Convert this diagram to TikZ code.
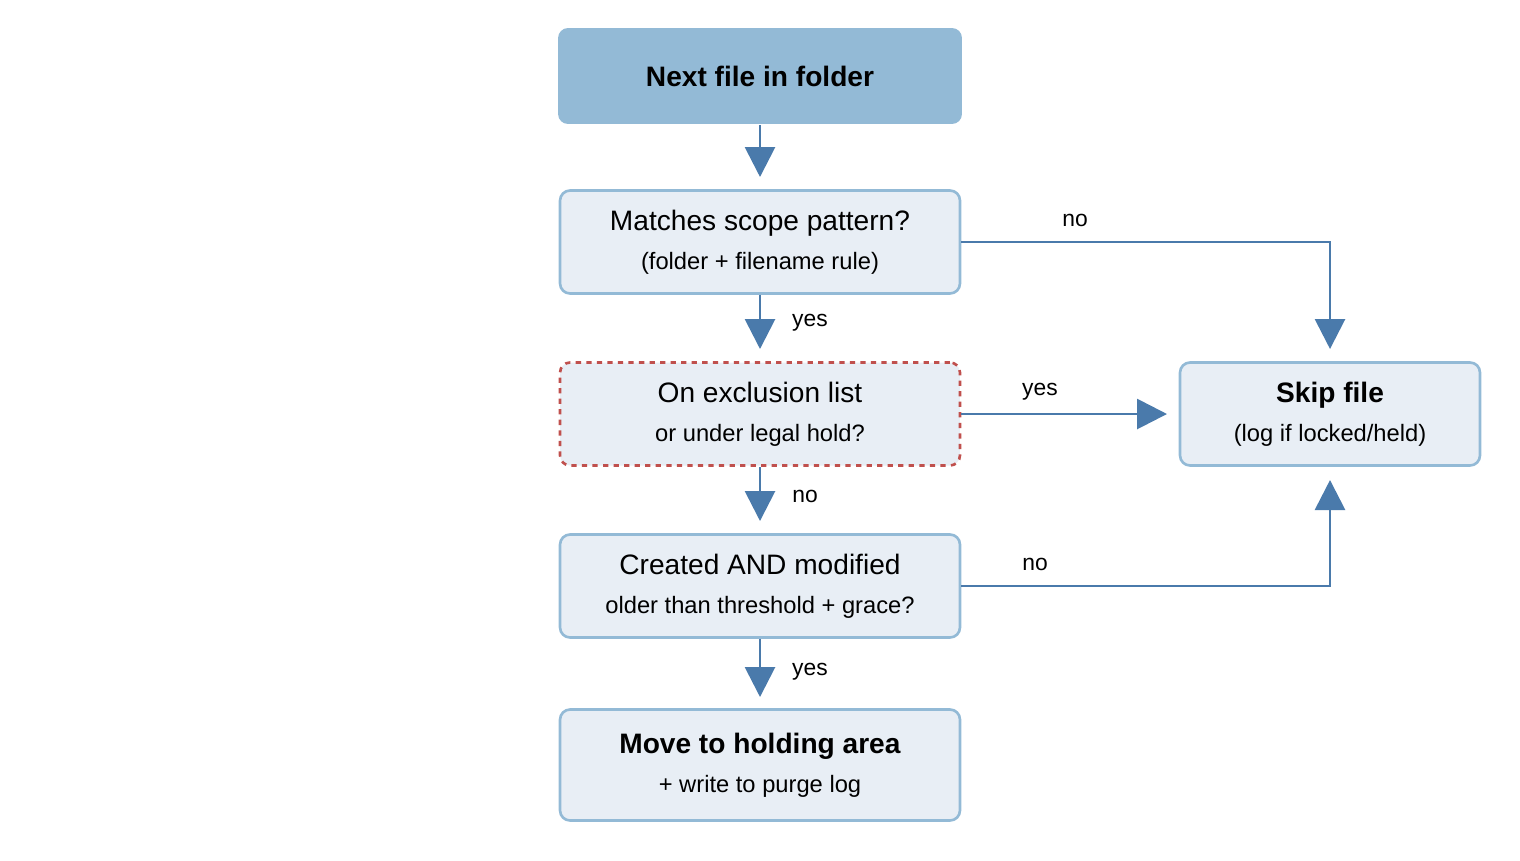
\documentclass[tikz,border=0pt]{standalone}
\usepackage{fontspec}
\setmainfont{Liberation Sans}
\usetikzlibrary{arrows.meta}
\definecolor{headblue}{HTML}{93BAD6}
\definecolor{boxfill}{HTML}{E8EEF5}
\definecolor{linkblue}{HTML}{4A7AAB}
\definecolor{holdred}{HTML}{C0504D}
\begin{document}
\begin{tikzpicture}[x=0.02cm,y=-0.02cm,
  step box/.style={rectangle,rounded corners=0.2cm,draw=headblue,line width=1.5pt,fill=boxfill,minimum width=8.0cm,minimum height=2.06cm,align=center,font=\fontsize{16}{22}\selectfont},
  head box/.style={step box,draw=none,fill=headblue,minimum width=8.08cm,minimum height=1.92cm},
  flow/.style={draw=linkblue,line width=1.6pt,-{Triangle[width=0.6cm,length=0.6cm]}},
  tag/.style={font=\fontsize{13}{15}\selectfont}]
  \useasboundingbox (0,0) rectangle (1520,860);

    %decision nodes
    \node (next) at (760,76)[head box]{\textbf{Next file in folder}};
    \node (scope) at (760,242)[step box]{Matches scope pattern?\\{\fontsize{13.5}{16}\selectfont (folder + filename rule)}};
    \node (excl) at (760,414)[step box,draw=holdred,dashed]{On exclusion list\\{\fontsize{13.5}{16}\selectfont or under legal hold?}};
    \node (age) at (760,586)[step box]{Created AND modified\\{\fontsize{13.5}{16}\selectfont older than threshold + grace?}};
    \node (move) at (760,765)[step box,minimum height=2.22cm]{\textbf{Move to holding area}\\{\fontsize{13.5}{16}\selectfont + write to purge log}};
    \node (skip) at (1330,414)[step box,minimum width=6.0cm]{\textbf{Skip file}\\{\fontsize{13.5}{16}\selectfont (log if locked/held)}};

    %free ends
    \coordinate (nextend) at (760,177);
    \coordinate (scopeend) at (760,349);
    \coordinate (exclend) at (760,521);
    \coordinate (ageend) at (760,697);
    \coordinate (skiptop) at (1330,349);
    \coordinate (skipleft) at (1167,414);
    \coordinate (skipbot) at (1330,480);

    %main line
    \draw [flow] (next.south) to (nextend);
    \draw [flow] (scope.south) to (scopeend);
    \draw [flow] (excl.south) to (exclend);
    \draw [flow] (age.south) to (ageend);

    %branches to skip
    \draw [flow] (scope.east) -| (skiptop);
    \draw [flow] (excl.east) to (skipleft);
    \draw [flow] (age.east) -| (skipbot);

    %labels
    \node (l1) at (1075,220)[tag]{no};
    \node (l2) at (810,323)[tag]{yes};
    \node (l3) at (1040,392)[tag]{yes};
    \node (l4) at (805,496)[tag]{no};
    \node (l5) at (1035,564)[tag]{no};
    \node (l6) at (810,672)[tag]{yes};
\end{tikzpicture}
\end{document}
